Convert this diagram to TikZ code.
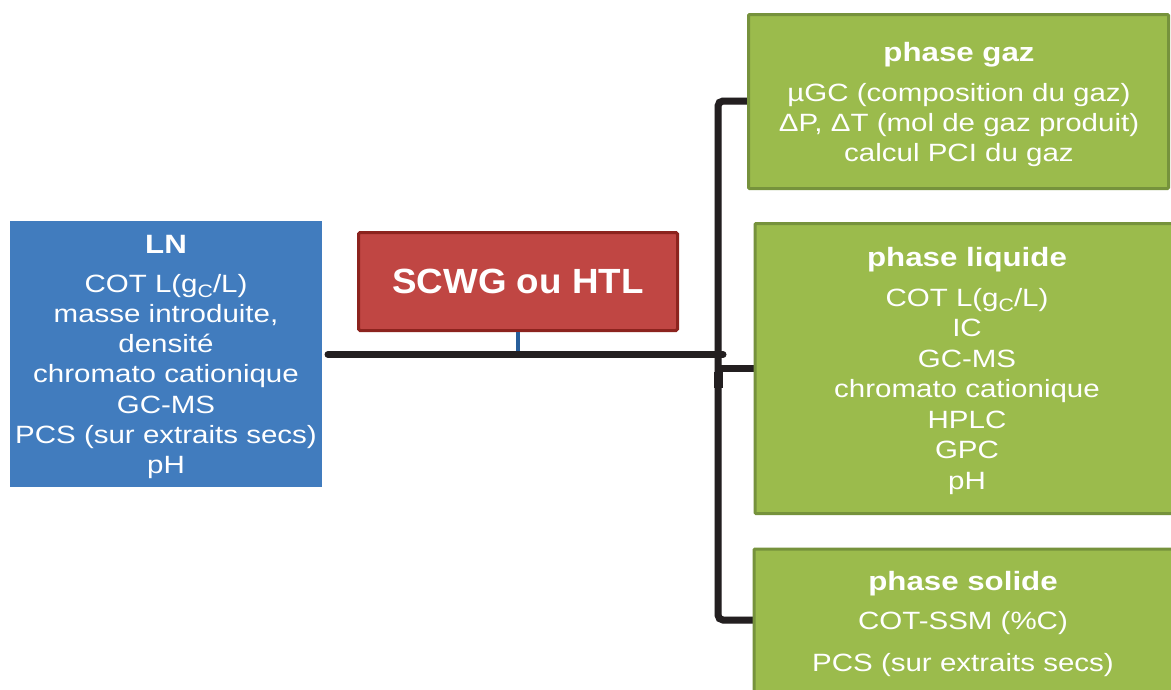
\documentclass[tikz,border=0pt]{standalone}
\usepackage{fontspec}
\setmainfont[FakeStretch=1.18]{Liberation Sans}
\newfontfamily\scwgfont[FakeStretch=1.05]{Liberation Sans}
\definecolor{lnblue}{RGB}{65,124,190}
\definecolor{redfill}{RGB}{192,70,67}
\definecolor{redline}{RGB}{140,35,30}
\definecolor{gfill}{RGB}{155,187,76}
\definecolor{gline}{RGB}{118,146,60}
\definecolor{conn}{RGB}{35,31,32}
\definecolor{stubblue}{RGB}{40,95,155}
\newcommand{\subC}{\raisebox{-5pt}{\fontsize{18}{18}\selectfont C}}
\begin{document}
\begin{tikzpicture}[x=1pt,y=-1pt,
  lnbox/.style={rectangle, fill=lnblue, inner sep=0pt},
  redbox/.style={rectangle, fill=redfill, draw=redline, line width=3pt, rounded corners=1.5pt, inner sep=0pt},
  greenbox/.style={rectangle, fill=gfill, draw=gline, line width=3pt, rounded corners=1pt, inner sep=0pt},
  body/.style={text=white, align=center, inner sep=0pt, font=\fontsize{25}{30.3}\selectfont},
  title/.style={text=white, align=center, inner sep=0pt, font=\fontsize{26.5}{30}\selectfont\bfseries},
  connector/.style={draw=conn, line width=7pt, rounded corners=5pt},
  shadowline/.style={draw=black!30, opacity=0.35, line width=7pt, rounded corners=5pt}
]
\useasboundingbox (0,0) rectangle (1171,689);
\fill[white] (0,0) rectangle (1171,689);

% connector coordinates
\coordinate (hstart) at (328,354.5);
\coordinate (hend) at (723,354.5);
\coordinate (vtop) at (718,101);
\coordinate (vbot) at (718,620);
\coordinate (vmid) at (718,368);
\coordinate (stubend) at (518,351);
\coordinate (gazin) at (750,101);
\coordinate (liqin) at (756,368);
\coordinate (solin) at (754,620);

% shadows
\begin{scope}[shift={(2,4)}]
\path[shadowline] (gazin) -- (vtop) -- (vbot) -- (solin);
\path[shadowline] (vmid) -- (liqin);
\path[shadowline] (hstart) -- (hend);
\end{scope}

% connectors
\path[connector] (gazin) -- (vtop) -- (vbot) -- (solin);
\path[connector] (vmid) -- (liqin);
\path[connector, line cap=round] (hstart) -- (hend);
\fill[conn] (713.5,372) rectangle (722.5,388);

% boxes
\node[lnbox, minimum width=312pt, minimum height=266pt] (ln) at (166,354) {};
\node[redbox, minimum width=319pt, minimum height=98pt] (scwg) at (518,281.5) {};
\node[greenbox, minimum width=420pt, minimum height=174pt] (gaz) at (958.5,101.5) {};
\node[greenbox, minimum width=420pt, minimum height=290pt] (liq) at (965,368.5) {};
\node[greenbox, minimum width=420pt, minimum height=150pt] (sol) at (964,624) {};

\draw[stubblue, line width=4pt] (scwg.south) -- (stubend);

% texts
\node[text=white, inner sep=0pt, anchor=base, font=\fontsize{35}{40}\selectfont\scwgfont\bfseries] (scwgt) at (518,293) {SCWG ou HTL};

\node[title, anchor=base] (lnt) at (166,253) {LN};
\node[body, anchor=north] (lnb) at (166,273.7) {COT L(g\subC/L)\\masse introduite,\\densité\\chromato cationique\\GC-MS\\PCS (sur extraits secs)\\pH};

\node[title, anchor=base] (gazt) at (959,61) {phase gaz};
\node[body, anchor=north] (gazb) at (959,82.7) {µGC (composition du gaz)\\ΔP, ΔT (mol de gaz produit)\\calcul PCI du gaz};

\node[title, anchor=base] (liqt) at (967,266) {phase liquide};
\node[body, anchor=north, font=\fontsize{25}{30.5}\selectfont] (liqb) at (967,287.7) {COT L(g\subC/L)\\IC\\GC-MS\\chromato cationique\\HPLC\\GPC\\pH};

\node[title, anchor=base] (solt) at (963,590) {phase solide};
\node[body, anchor=base] (solb1) at (963,629) {COT-SSM (\%C)};
\node[body, anchor=base] (solb2) at (963,671) {PCS (sur extraits secs)};
\end{tikzpicture}
\end{document}
